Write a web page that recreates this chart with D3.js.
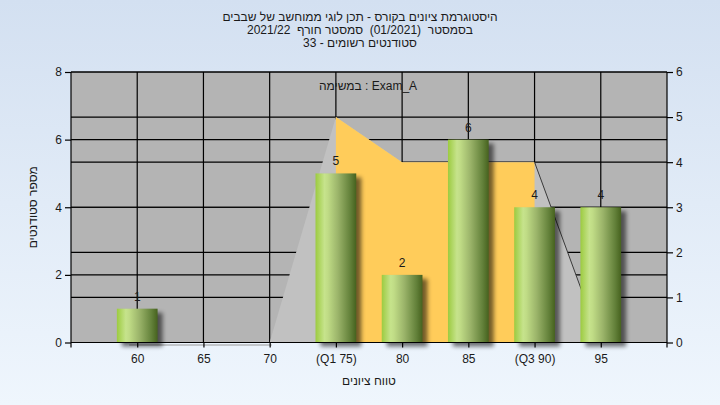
<!DOCTYPE html>
<html><head><meta charset="utf-8">
<script src="https://cdn.jsdelivr.net/npm/d3@7/dist/d3.min.js"></script>
<style>
html,body{margin:0;padding:0;}
svg{display:block;font-family:"Liberation Sans",Arial,"DejaVu Sans",sans-serif;}
</style></head>
<body>
<script>
// ---- data ----
const titleLines = [
  "היסטוגרמת ציונים בקורס - תכן לוגי ממוחשב של שבבים",
  "בסמסטר  (01/2021)  סמסטר חורף  2021/22",
  "סטודנטים רשומים - 33"
];
const annotation = "במשימה : Exam_A";
const xAxisTitle = "טווח ציונים";
const yAxisTitle = "מספר סטודנטים";
const categories = [60, 65, 70, 75, 80, 85, 90, 95];
const tickLabels = ["60", "65", "70", "(Q1 75)", "80", "85", "(Q3 90)", "95"];
const counts = [1, 0, 0, 5, 2, 6, 4, 4];            // bars, left axis
const curveValues = [0, 0, 0, 5, 4, 4, 4, 0];       // area, right axis
const q1 = 75, q3 = 90;
const leftTicks = [0, 2, 4, 6, 8];
const rightTicks = [0, 1, 2, 3, 4, 5, 6];

// ---- layout ----
const W = 720, H = 405;
const L = 71, R = 667, T = 72, B = 342.5;

const svg = d3.select("body").append("svg").attr("width", W).attr("height", H);
const defs = svg.append("defs");

const bg = defs.append("linearGradient").attr("id","bg").attr("x1",0).attr("y1",0).attr("x2",0).attr("y2",1);
bg.append("stop").attr("offset","0%").attr("stop-color","#d3e0f1");
bg.append("stop").attr("offset","100%").attr("stop-color","#eff6fd");

const bar = defs.append("linearGradient").attr("id","bar").attr("x1",0).attr("y1",0).attr("x2",1).attr("y2",0);
[["0%","#9ccb40"],["22%","#c6e38c"],["30%","#c0dc86"],["55%","#9bb46a"],["85%","#63813a"],["100%","#46621e"]]
  .forEach(([o,c]) => bar.append("stop").attr("offset",o).attr("stop-color",c));

const blur = defs.append("filter").attr("id","shadow").attr("x","-30%").attr("y","-30%").attr("width","160%").attr("height","160%");
blur.append("feGaussianBlur").attr("stdDeviation",2.2);

svg.append("rect").attr("width",W).attr("height",H).attr("fill","url(#bg)");

const x = d3.scaleLinear().domain([55, 100]).range([L, R]);
const yL = d3.scaleLinear().domain([0, 8]).range([B, T]);
const yR = d3.scaleLinear().domain([0, 6]).range([B, T]);

// plot background
svg.append("rect").attr("x",L).attr("y",T).attr("width",R-L).attr("height",B-T).attr("fill","#b4b4b4");

// grid
const grid = svg.append("g").attr("stroke","#000").attr("stroke-width",1.2);
leftTicks.forEach(v => grid.append("line").attr("x1",L).attr("x2",R).attr("y1",yL(v)).attr("y2",yL(v)));
rightTicks.forEach(v => grid.append("line").attr("x1",L).attr("x2",R).attr("y1",yR(v)).attr("y2",yR(v)));
categories.forEach(c => grid.append("line").attr("x1",x(c)).attr("x2",x(c)).attr("y1",T).attr("y2",B));

// area: grey full curve, yellow between Q1 and Q3
const areaGen = d3.area().x(d => x(d.c)).y0(yR(0)).y1(d => yR(d.v));
const pts = categories.map((c,i) => ({c, v: curveValues[i]}));
const nz = pts.filter((d,i) => d.v > 0 || (pts[i+1] && pts[i+1].v > 0) || (pts[i-1] && pts[i-1].v > 0));
svg.append("path").attr("d", areaGen(nz)).attr("fill", "#c1c1c1");
svg.append("path").attr("d", areaGen(pts.filter(d => d.c >= q1 && d.c <= q3))).attr("fill", "#ffcc5a");
const tail = pts.filter(d => d.c >= q3);
svg.append("path").attr("d", d3.line().x(d => x(d.c)).y(d => yR(d.v))(tail.slice(0,2)))
  .attr("fill","none").attr("stroke","#3a3a3a").attr("stroke-width",1);
// faint zero line of the curve
svg.append("line").attr("x1",x(60)-8).attr("x2",x(70)+2).attr("y1",B+2.5).attr("y2",B+2.5)
  .attr("stroke","#9a9a9a").attr("stroke-width",1.2);

// bars
const step = x(65) - x(60);
const bw = step * 0.615;
const data = categories.map((c,i) => ({c, v: counts[i]})).filter(d => d.v > 0);
svg.append("g").selectAll("rect").data(data).join("rect")
  .attr("x", d => x(d.c) - bw/2 + 5).attr("y", d => yL(d.v) + 4)
  .attr("width", bw).attr("height", d => B - yL(d.v))
  .attr("fill","#000").attr("opacity",0.55).attr("filter","url(#shadow)");
svg.append("g").selectAll("rect").data(data).join("rect")
  .attr("x", d => x(d.c) - bw/2).attr("y", d => yL(d.v))
  .attr("width", bw).attr("height", d => B - yL(d.v))
  .attr("fill","url(#bar)");
svg.append("g").selectAll("text").data(data).join("text")
  .attr("x", d => x(d.c)).attr("y", d => yL(d.v) - 8)
  .attr("text-anchor","middle").attr("font-size",12).attr("fill","#1a1a1a")
  .text(d => d.v);

// axes
const axL = svg.append("g").attr("transform",`translate(${L},0)`)
  .call(d3.axisLeft(yL).tickValues(leftTicks).tickSize(6).tickPadding(3).tickFormat(d3.format("d")));
const axR = svg.append("g").attr("transform",`translate(${R},0)`)
  .call(d3.axisRight(yR).tickValues(rightTicks).tickSize(6).tickPadding(3).tickFormat(d3.format("d")));
const axB = svg.append("g").attr("transform",`translate(0,${B})`)
  .call(d3.axisBottom(x).tickValues(categories).tickSize(5).tickPadding(7)
    .tickFormat((d,i) => tickLabels[i]));
[axL, axR, axB].forEach(g => {
  g.select(".domain").remove();
  g.selectAll("line").attr("stroke","#000").attr("stroke-width",1.2);
  g.selectAll("text").attr("font-size",12).attr("fill","#1a1a1a").attr("font-family",null);
});
svg.append("line").attr("x1",L).attr("x2",L).attr("y1",T).attr("y2",B+5).attr("stroke","#000").attr("stroke-width",1.2);
svg.append("line").attr("x1",R).attr("x2",R).attr("y1",T).attr("y2",B+5).attr("stroke","#000").attr("stroke-width",1.2);
svg.append("line").attr("x1",L).attr("x2",R).attr("y1",B).attr("y2",B).attr("stroke","#000").attr("stroke-width",1.2);

// titles
svg.append("g").selectAll("text").data(titleLines).join("text")
  .attr("x", 360).attr("y", (d,i) => 21 + i*13)
  .attr("text-anchor","middle").attr("direction","rtl").attr("font-size",12).attr("fill","#1a1a1a")
  .style("white-space","pre")
  .text(d => d);

svg.append("text").attr("x", 368).attr("y", 90).attr("text-anchor","middle")
  .attr("font-size",12).attr("fill","#1a1a1a").text(annotation);

svg.append("text").attr("x", (L+R)/2).attr("y", 385).attr("text-anchor","middle")
  .attr("direction","rtl").attr("font-size",12).attr("fill","#1a1a1a").text(xAxisTitle);

svg.append("text").attr("transform",`translate(37,${(T+B)/2}) rotate(-90)`).attr("text-anchor","middle")
  .attr("direction","rtl").attr("font-size",12).attr("fill","#1a1a1a").text(yAxisTitle);
</script>
</body></html>
